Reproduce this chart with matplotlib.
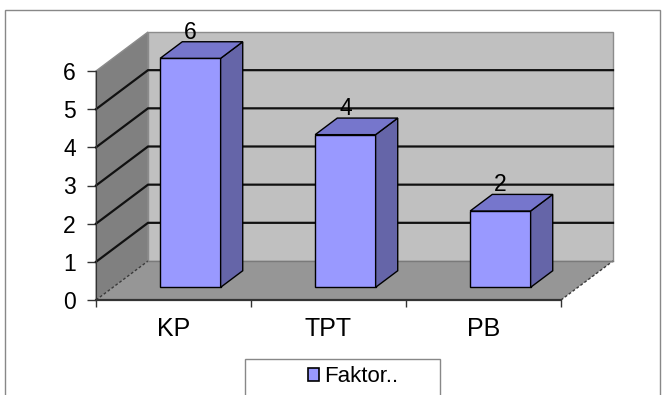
#------------------------------------------------imports---------------------------------------------------------------
import matplotlib
matplotlib.use('Agg')
import matplotlib.pyplot as plt
from matplotlib.patches import Polygon, Rectangle, Patch

#--------------------------------------------------data----------------------------------------------------------------
categories = ['KP', 'TPT', 'PB']
values = [6, 4, 2]
series_name = 'Faktor..'
y_ticks = [0, 1, 2, 3, 4, 5, 6]

#-------------------------------------------------settings-------------------------------------------------------------
plt.rcParams['font.family'] = ['Liberation Sans', 'DejaVu Sans']

FRONT = '#9999FF'
TOP = '#7676CC'
SIDE = '#6565A8'
BACK_WALL = '#C0C0C0'
SIDE_WALL = '#808080'
FLOOR = '#969696'

# depth of the box in data units (x in categories, y in values)
DX, DY = 0.3355, 1.022
# bars sit between these fractions of the depth
F0, F1 = 0.325, 0.75
BAR_W = 0.39
YMAX = 6


def shift(p, f):
    return (p[0] + f * DX, p[1] + f * DY)


#--------------------------------------------------figure--------------------------------------------------------------
fig = plt.figure(figsize=(6.63, 3.95), dpi=100)
ax = fig.add_axes([96 / 663, 95 / 395, 465 / 663, 229 / 395])
ax.set_xlim(0, len(categories))
ax.set_ylim(0, YMAX)
ax.patch.set_visible(False)

n = len(categories)

#--------------------------------------------------walls---------------------------------------------------------------
back = [shift((0, 0), 1), shift((n, 0), 1), shift((n, YMAX), 1), shift((0, YMAX), 1)]
ax.add_patch(Polygon(back, closed=True, fc=BACK_WALL, ec='#8C8C8C', lw=1, clip_on=False, zorder=1))

left = [(0, 0), (0, YMAX), shift((0, YMAX), 1), shift((0, 0), 1)]
ax.add_patch(Polygon(left, closed=True, fc=SIDE_WALL, ec='#8C8C8C', lw=1, clip_on=False, zorder=1))

floor = [(0, 0), (n, 0), shift((n, 0), 1), shift((0, 0), 1)]
ax.add_patch(Polygon(floor, closed=True, fc=FLOOR, ec='none', lw=0, clip_on=False, zorder=1))

# dashed edges of the floor
for p in [(0, 0), (n, 0)]:
    q = shift(p, 1)
    ax.plot([p[0], q[0]], [p[1], q[1]], color='#3A3A3A', lw=1, ls=(0, (2, 1.5)), clip_on=False, zorder=2)
a, b = shift((0, 0), 1), shift((n, 0), 1)
ax.plot([a[0], b[0]], [a[1], b[1]], color='#7A7A7A', lw=1, clip_on=False, zorder=2)

#------------------------------------------------gridlines-------------------------------------------------------------
for k in y_ticks[1:-1]:
    p0, p1, p2 = (0, k), shift((0, k), 1), shift((n, k), 1)
    ax.plot([p0[0], p1[0], p2[0]], [p0[1], p1[1], p2[1]], color='#111111', lw=1.6,
            clip_on=False, zorder=2, solid_joinstyle='miter')

#---------------------------------------------------bars---------------------------------------------------------------
for i, v in enumerate(values):
    c = i + 0.5
    x0, x1 = c - BAR_W / 2, c + BAR_W / 2
    fl, fr, tl, tr = shift((x0, 0), F0), shift((x1, 0), F0), shift((x0, v), F0), shift((x1, v), F0)
    br, tbl, tbr = shift((x1, 0), F1), shift((x0, v), F1), shift((x1, v), F1)
    ax.add_patch(Polygon([fl, fr, tr, tl], closed=True, fc=FRONT, ec='black', lw=1, clip_on=False, zorder=5))
    ax.add_patch(Polygon([fr, br, tbr, tr], closed=True, fc=SIDE, ec='black', lw=1, clip_on=False, zorder=5))
    ax.add_patch(Polygon([tl, tr, tbr, tbl], closed=True, fc=TOP, ec='black', lw=1, clip_on=False, zorder=5))
    lx = shift((c, v), F0)[0]
    ax.text(lx, v + F1 * DY + 0.25, str(v), ha='center', va='center', fontsize=16.5, zorder=6)

#---------------------------------------------------axes---------------------------------------------------------------
ax.set_yticks(y_ticks)
ax.set_xticks(range(n + 1))
ax.set_xticks([i + 0.5 for i in range(n)], minor=True)
ax.set_xticklabels([])
ax.set_xticklabels(categories, minor=True)
ax.tick_params(axis='x', which='major', length=5, width=1, color='#333333', direction='out')
ax.tick_params(axis='x', which='minor', length=0, pad=12, labelsize=18)
ax.tick_params(axis='y', length=6.5, width=1, color='#333333', pad=8, labelsize=16.5)
for s in ['top', 'right']:
    ax.spines[s].set_visible(False)
ax.spines['left'].set_color('#333333')
ax.spines['bottom'].set_color('#333333')
ax.spines['bottom'].set_linewidth(1.6)
ax.spines['left'].set_zorder(3)
ax.spines['bottom'].set_zorder(3)

#--------------------------------------------------legend--------------------------------------------------------------
fig.add_artist(Rectangle((245 / 663, -0.02), 195 / 663, 36 / 395 + 0.02, transform=fig.transFigure,
                         fc='white', ec='#888888', lw=1))
fig.legend(handles=[Patch(fc=FRONT, ec='black', lw=1.2, label=series_name)], loc='center',
           bbox_to_anchor=(353 / 663, 1 - 377 / 395), frameon=False, fontsize=16,
           handlelength=0.5, handleheight=0.55, handletextpad=0.2)

# outer border of the chart area
fig.add_artist(Rectangle((5 / 663, -0.02), 655 / 663, 385 / 395 + 0.02, transform=fig.transFigure,
                         fc='none', ec='#888888', lw=1))

#----------------------------------------------------saving------------------------------------------------------------
fig.savefig('out.png', dpi=100)
